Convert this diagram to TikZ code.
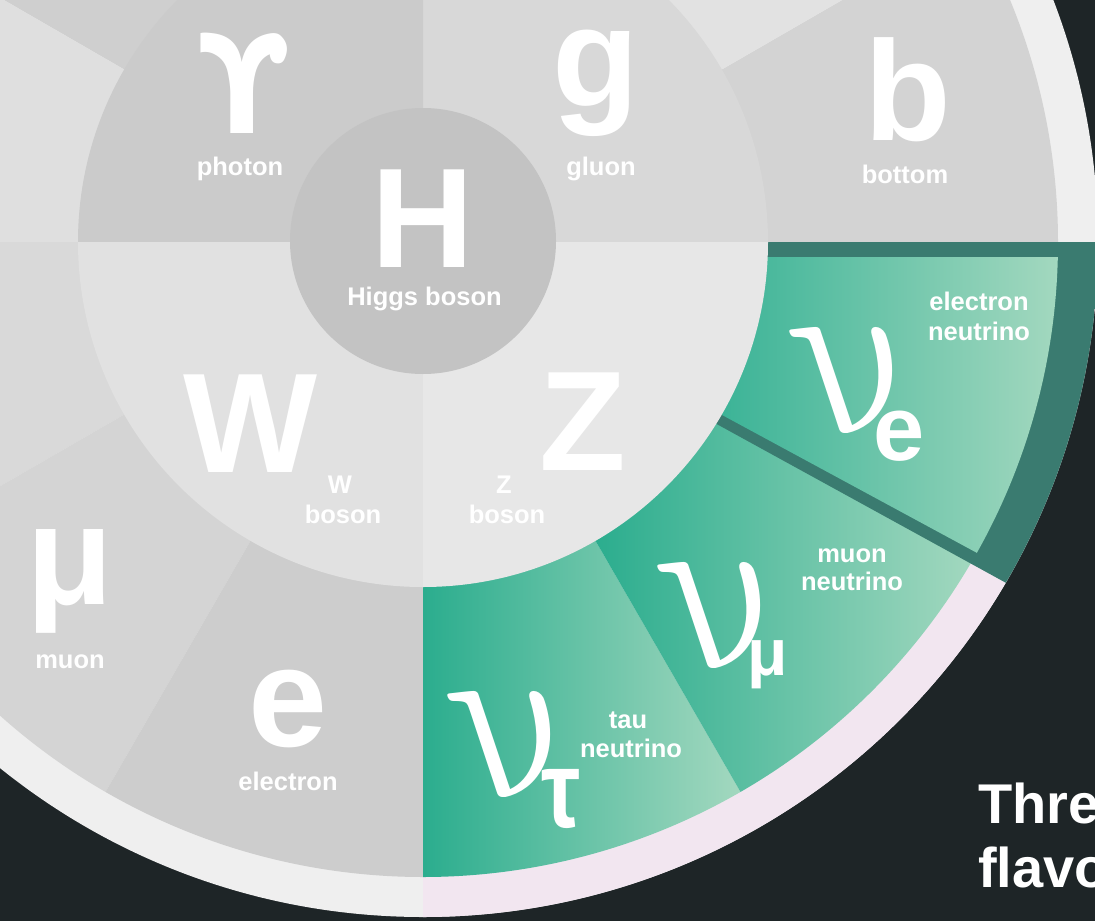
\documentclass[tikz,border=0pt]{standalone}
\usepackage{fontspec}
\setmainfont{Liberation Sans}
\newfontfamily\dvfont{DejaVu Sans}
\definecolor{bg}{HTML}{1E2527}
\definecolor{rimgray}{HTML}{EFEFEF}
\definecolor{rimpink}{HTML}{F2E6F0}
\definecolor{frame}{HTML}{3A7B70}
\definecolor{tealdark}{HTML}{2BAD8E}
\definecolor{teallight}{HTML}{A3D8BF}
\definecolor{gA}{HTML}{D3D3D3}
\definecolor{gB}{HTML}{E2E2E2}
\definecolor{gC}{HTML}{CFCFCF}
\definecolor{gD}{HTML}{DFDFDF}
\definecolor{gE}{HTML}{D9D9D9}
\definecolor{gF}{HTML}{D4D4D4}
\definecolor{gG}{HTML}{CDCDCD}
\definecolor{qGluon}{HTML}{D8D8D8}
\definecolor{qPhoton}{HTML}{CBCBCB}
\definecolor{qW}{HTML}{E1E1E1}
\definecolor{qZ}{HTML}{E7E7E7}
\definecolor{higgs}{HTML}{C3C3C3}
\newcommand\piesec[4]{\fill[#1] (0,0) -- (#2:#4) arc[start angle=#2, end angle=#3, radius=#4] -- cycle;}
\newcommand\bignu{\scalebox{21}[24]{$\nu$}}
\tikzset{
  big/.style={text=white, inner sep=0pt, anchor=base, font=\fontsize{142}{142}\selectfont\bfseries},
  lab/.style={text=white, inner sep=0pt, anchor=base, font=\fontsize{25.5}{25.5}\selectfont\bfseries},
  nu/.style={text=white, inner sep=0pt, anchor=base, xslant=-0.55, font=\fontsize{10}{12}\selectfont},
  sub/.style={text=white, inner sep=0pt, anchor=base, font=\bfseries},
  title/.style={text=white, inner sep=0pt, anchor=base west, font=\fontsize{56}{56}\selectfont\bfseries}
}
\begin{document}
\begin{tikzpicture}[x=1pt,y=1pt]
\useasboundingbox (0,0) rectangle (1095,-921);
\fill[bg] (0,0) rectangle (1095,-921);
\begin{scope}[shift={(423,-242)}]
  \coordinate (C) at (0,0);
  % rim
  \fill[rimgray] (C) circle[radius=675pt];
  \piesec{rimpink}{-90}{-30}{675pt}
  % outer ring sectors
  \piesec{gA}{0}{30}{635pt}
  \piesec{gB}{30}{60}{635pt}
  \piesec{gA}{60}{90}{635pt}
  \piesec{gB}{90}{120}{635pt}
  \piesec{gC}{120}{150}{635pt}
  \piesec{gD}{150}{180}{635pt}
  \piesec{gE}{180}{210}{635pt}
  \piesec{gF}{210}{240}{635pt}
  \piesec{gG}{240}{270}{635pt}
  % tau neutrino
  \begin{scope}
    \clip (C) -- (-90:635pt) arc[start angle=-90, end angle=-60, radius=635pt] -- cycle;
    \shade[left color=tealdark, right color=teallight] (0,0) rectangle (318,-640);
  \end{scope}
  % muon neutrino
  \begin{scope}
    \clip (C) -- (-60:635pt) arc[start angle=-60, end angle=-26, radius=635pt] -- cycle;
    \shade[left color=tealdark, right color=teallight] (172,0) rectangle (552,-640);
  \end{scope}
  % electron neutrino frame
  \begin{scope}
    \clip (C) circle[radius=675pt];
    \fill[frame] (0,0) -- (800,0) -- (800,-460) -- (0,-20.8) -- cycle;
  \end{scope}
  % electron neutrino fill
  \begin{scope}
    \clip (C) circle[radius=635pt];
    \clip (7,-15) -- (800,-15) -- (800,-444) -- cycle;
    \shade[left color=tealdark!92!white, right color=teallight] (299,0) rectangle (636,-400);
  \end{scope}
  % inner ring
  \piesec{qGluon}{0}{90}{345pt}
  \piesec{qPhoton}{90}{180}{345pt}
  \piesec{qW}{180}{270}{345pt}
  \piesec{qZ}{270}{360}{345pt}
  % Higgs
  \fill[higgs] (0,1) circle[radius=133pt];
\end{scope}
% big symbols
\node[big, font=\fontsize{137}{137}\selectfont\dvfont\bfseries] (gam) at (243.5,-133) {\scalebox{0.88}[1]{ϒ}};
\node[big] (gl) at (596,-106) {g};
\node[big] (bq) at (907.5,-140) {b};
\node[big] (Hb) at (422.5,-267) {H};
\node[big] (Wb) at (251,-472) {W};
\node[big] (Zb) at (582.5,-470) {Z};
\node[big] (mu) at (70,-604) {μ};
\node[big] (el) at (287.5,-746) {e};
% labels
\node[lab] (lphoton) at (240,-175) {photon};
\node[lab] (lgluon) at (601,-175) {gluon};
\node[lab] (lbottom) at (905,-183) {bottom};
\node[lab] (lhiggs) at (424.5,-305) {Higgs boson};
\node[lab] (lW1) at (340,-493) {W};
\node[lab] (lW2) at (343,-523) {boson};
\node[lab] (lZ1) at (504,-493) {Z};
\node[lab] (lZ2) at (507,-523) {boson};
\node[lab] (lmuon) at (70,-668) {muon};
\node[lab] (lelectron) at (288,-790) {electron};
\node[lab] (len1) at (979,-310) {electron};
\node[lab] (len2) at (979,-340) {neutrino};
\node[lab] (lmn1) at (852,-562) {muon};
\node[lab] (lmn2) at (852,-590) {neutrino};
\node[lab] (ltn1) at (628,-728) {tau};
\node[lab] (ltn2) at (631,-757) {neutrino};
% neutrinos
\node[nu] (nue) at (889,-433) {\bignu};
\node[sub, font=\fontsize{92}{92}\selectfont\bfseries] (nuesub) at (899,-460) {e};
\node[nu] (num) at (757,-668) {\bignu};
\node[sub, font=\fontsize{66}{66}\selectfont\bfseries] (numsub) at (768,-675) {μ};
\node[nu] (nut) at (547,-797) {\bignu};
\node[sub, font=\fontsize{88}{88}\selectfont\bfseries] (nutsub) at (561,-827) {\scalebox{1}[1.25]{τ}};
% title
\node[title] (t1) at (978,-823) {Thre};
\node[title] (t2) at (978,-887) {flavo};
\end{tikzpicture}
\end{document}
